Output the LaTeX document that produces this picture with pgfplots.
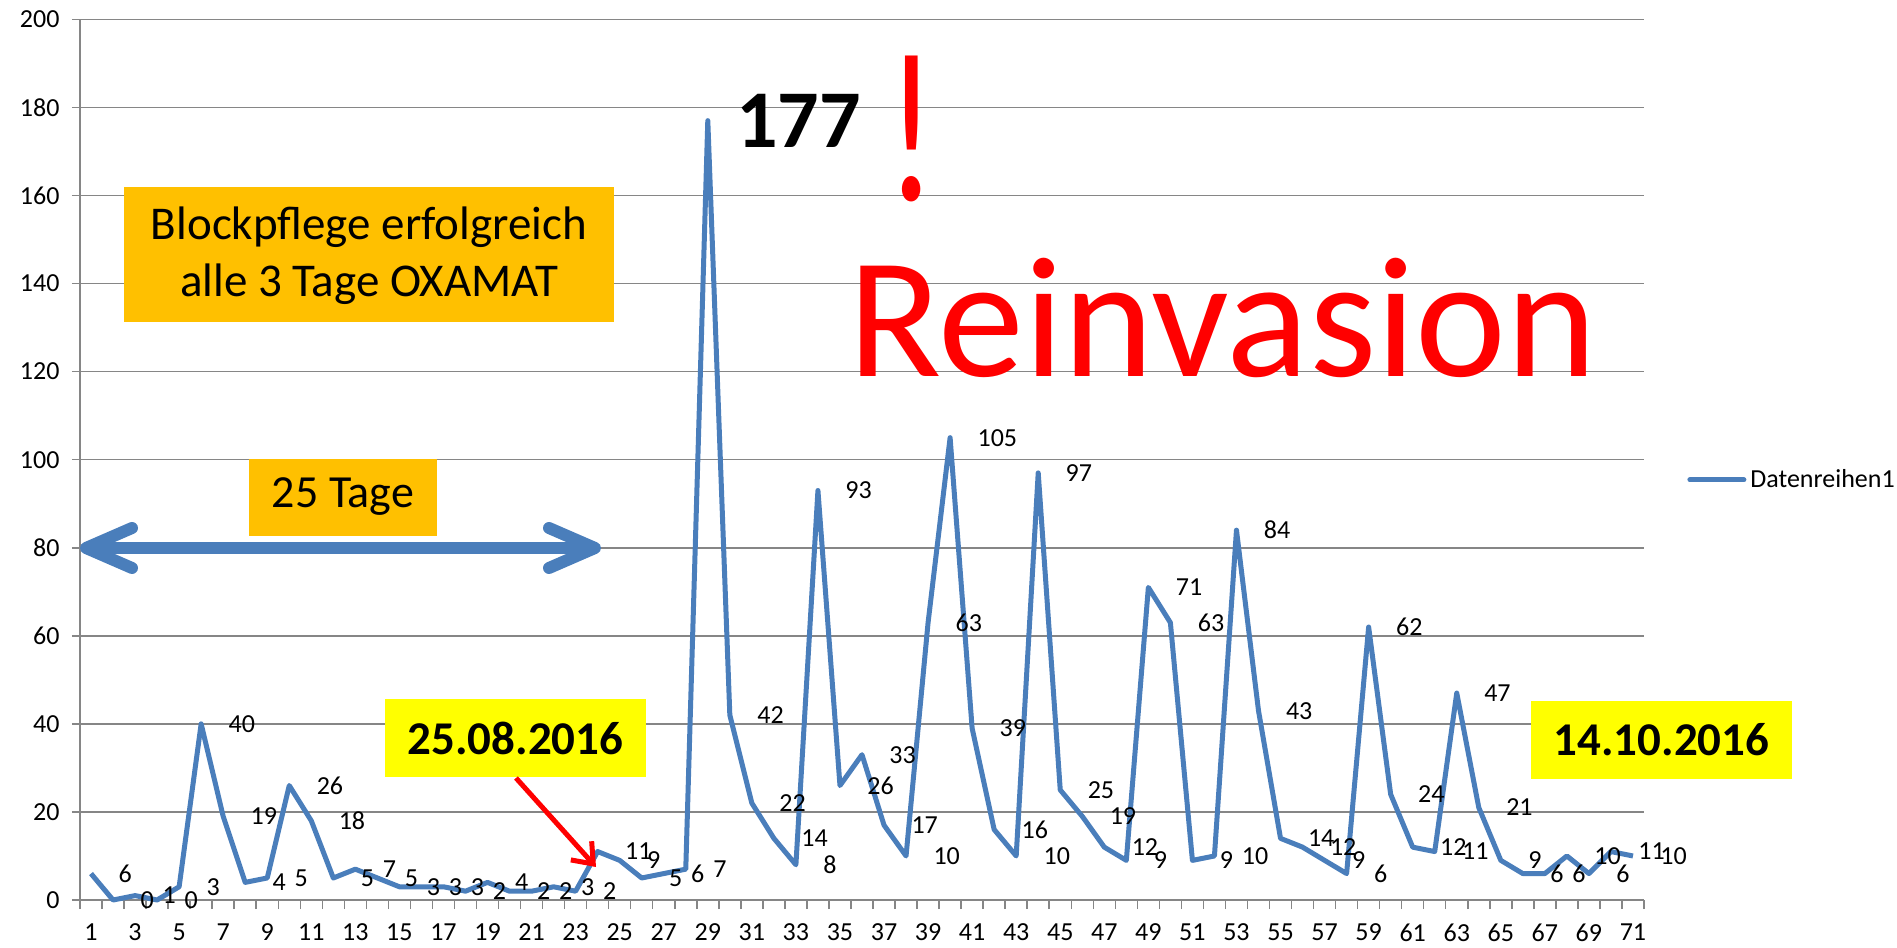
\documentclass[border=0pt]{standalone}
\usepackage{fontspec}
\setmainfont{Carlito}
\usepackage{pgfplots}
\usepackage{pgfplotstable}
\pgfplotsset{compat=1.18}
\usetikzlibrary{arrows.meta}

\definecolor{xlblue}{RGB}{74,126,187}
\definecolor{gridgray}{RGB}{134,134,134}
\definecolor{boxorange}{RGB}{255,192,0}
\definecolor{boxyellow}{RGB}{255,255,0}
\definecolor{xlred}{RGB}{255,0,0}

% Tag, Wert, Beschriftung
\pgfplotstableread{
x y l
1 6 6
2 0 0
3 1 1
4 0 0
5 3 3
6 40 40
7 19 19
8 4 4
9 5 5
10 26 26
11 18 18
12 5 5
13 7 7
14 5 5
15 3 3
16 3 3
17 3 3
18 2 2
19 4 4
20 2 2
21 2 2
22 3 3
23 2 2
24 11 11
25 9 9
26 5 5
27 6 6
28 7 7
29 177 {}
30 42 42
31 22 22
32 14 14
33 8 8
34 93 93
35 26 26
36 33 33
37 17 17
38 10 10
39 63 63
40 105 105
41 39 39
42 16 16
43 10 10
44 97 97
45 25 25
46 19 19
47 12 12
48 9 9
49 71 71
50 63 63
51 9 9
52 10 10
53 84 84
54 43 43
55 14 14
56 12 12
57 9 9
58 6 6
59 62 62
60 24 24
61 12 12
62 11 11
63 47 47
64 21 21
65 9 9
66 6 6
67 6 6
68 10 10
69 6 6
70 11 11
71 10 10
}\milben

\begin{document}
\begin{tikzpicture}
\useasboundingbox (0,0) rectangle (948.5pt,474pt);
\begin{axis}[
    at={(40pt,24pt)}, anchor=south west,
    scale only axis, width=782pt, height=440.3pt,
    xmin=0.5, xmax=71.5, ymin=0, ymax=200,
    axis lines=left,
    axis line style={-, draw=gridgray, line width=0.75pt},
    xtick={1,3,...,71},
    minor xtick={0.5,1.5,...,71.5},
    every major x tick/.append style={draw=none},
    ytick={0,20,...,200},
    tick align=outside,
    major tick length=4pt, minor tick length=4.5pt,
    tick style={gridgray, line width=0.75pt},
    ymajorgrids,
    grid style={gridgray, line width=0.75pt},
    ticklabel style={font=\fontsize{13}{15}\selectfont, black},
    xticklabel style={yshift=-4.5pt},
    yticklabel style={xshift=-2.7pt},
    /pgf/number format/assume math mode=true,
    clip=false,
    legend style={at={(1.0275,0.477)}, anchor=west, draw=none, fill=none,
        font=\fontsize{13}{15}\selectfont, inner sep=0pt},
    legend image code/.code={\draw[#1, line cap=round] (0pt,0pt) -- (27pt,0pt);},
]
\addplot[xlblue, line width=2.5pt, line join=round,
    point meta=explicit symbolic,
    nodes near coords,
    every node near coord/.append style={anchor=west, xshift=12.5pt, inner sep=0pt,
        font=\fontsize{13}{15}\selectfont, text=black}]
    table[x=x, y=y, meta=l] {\milben};
\addlegendentry{Datenreihen1}

\node[anchor=west, xshift=14pt, inner sep=0pt,
      font=\fontsize{41}{48}\selectfont\bfseries] at (axis cs:29,177) {177};
\end{axis}

% Kästen und Pfeile
\fill[boxorange] (62pt,313pt) rectangle (307pt,380.5pt);
\node[align=center, font=\fontsize{23.5}{28.5}\selectfont] at (184.5pt,346pt)
    {Blockpflege erfolgreich\\alle 3 Tage OXAMAT};

\fill[boxorange] (124.5pt,206pt) rectangle (218.5pt,244.5pt);
\node[font=\fontsize{23}{28}\selectfont] at (171.5pt,225.5pt) {25 Tage};

\draw[xlblue, line width=6pt, line cap=round, line join=round]
    (44pt,200pt) -- (296pt,200pt);
\draw[xlblue, line width=6pt, line cap=round, line join=round]
    (66pt,210pt) -- (43pt,200pt) -- (66pt,190pt);
\draw[xlblue, line width=6pt, line cap=round, line join=round]
    (274.5pt,210pt) -- (297.5pt,200pt) -- (274.5pt,190pt);

\fill[boxyellow] (192.5pt,85.5pt) rectangle (323pt,124.5pt);
\node[font=\fontsize{23.5}{28}\selectfont\bfseries] at (257.75pt,105pt) {25.08.2016};
\draw[xlred, line width=2.5pt, -{Straight Barb[length=9pt,width=14pt]}]
    (258pt,85pt) -- (298pt,40.5pt);

\fill[boxyellow] (765.5pt,84.5pt) rectangle (896pt,123.5pt);
\node[font=\fontsize{23.5}{28}\selectfont\bfseries] at (830.75pt,104pt) {14.10.2016};

\node[anchor=base, inner sep=0pt, text=xlred, xscale=0.72,
      font=\fontsize{107}{120}\selectfont] at (456pt,373.5pt) {!};
\node[anchor=base west, inner sep=0pt, text=xlred, font=\fontsize{86}{100}\selectfont]
    at (424pt,285.5pt) {Reinvasion};
\end{tikzpicture}
\end{document}
